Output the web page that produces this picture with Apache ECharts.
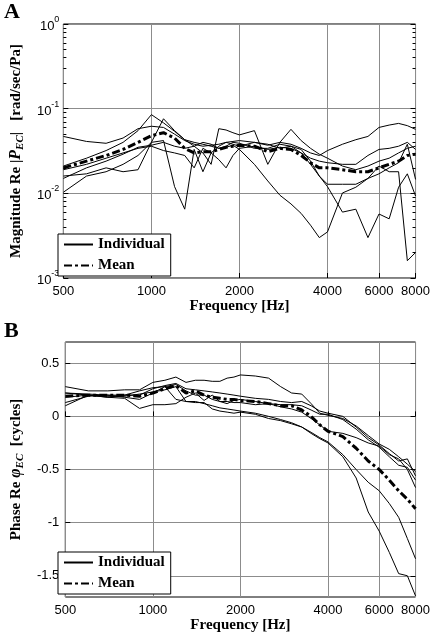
<!DOCTYPE html>
<html><head><meta charset="utf-8">
<script src="https://cdn.jsdelivr.net/npm/echarts@6/dist/echarts.min.js"></script>
<style>html,body{margin:0;padding:0;background:#fff}#c{width:433px;height:634px}</style>
</head><body><div id="c"></div>
<script>
// Frequencies (Hz)
const FREQ = [500,600,700,800,900,1000,1100,1200,1300,1400,1500,1600,1700,1800,1900,2000,2250,2500,2750,3000,3250,3500,3750,4000,4500,5000,5500,6000,6500,7000,7500,8000];

// Panel A: magnitude (rad/sec/Pa), six individuals + mean
const MAG_1 = [.047,.041,.039,.045,.058,.062,.060,.050,.042,.038,.036,.037,.038,.040,.041,.042,.040,.037,.040,.038,.034,.030,.028,.032,.038,.043,.047,.060,.064,.067,.063,.057];
const MAG_2 = [.021,.026,.032,.040,.055,.085,.068,.054,.043,.036,.030,.022,.058,.056,.052,.049,.055,.022,.040,.057,.042,.034,.029,.026,.021,.019,.021,.024,.026,.030,.034,.036];
const MAG_3 = [.0103,.016,.018,.022,.028,.040,.042,.012,.0065,.033,.018,.030,.025,.020,.028,.034,.036,.033,.035,.034,.030,.022,.016,.0128,.0128,.0128,.015,.017,.020,.023,.038,.0146];
const MAG_4 = [.016,.017,.020,.018,.019,.040,.076,.055,.043,.040,.038,.036,.034,.035,.037,.033,.022,.014,.0095,.0075,.0058,.0042,.003,.0035,.0101,.0118,.015,.021,.018,.018,.0016,.002];
const MAG_5 = [.019,.022,.026,.030,.034,.036,.032,.030,.028,.020,.034,.030,.036,.040,.038,.036,.040,.038,.034,.036,.033,.024,.016,.012,.006,.0065,.003,.0057,.005,.0118,.017,.0093];
const MAG_6 = [.015,.020,.024,.029,.035,.037,.040,.036,.034,.036,.040,.038,.034,.036,.040,.039,.034,.034,.038,.036,.030,.026,.024,.023,.022,.022,.028,.033,.034,.036,.040,.033];
const MAG_MEAN = [.020,.024,.028,.033,.040,.048,.052,.045,.034,.030,.031,.031,.033,.035,.036,.037,.036,.031,.034,.033,.028,.023,.020,.020,.019,.018,.018,.020,.022,.024,.028,.029];

// Panel B: phase (cycles)
const PH_1 = [0.28,0.24,0.24,0.25,0.25,0.32,0.34,0.37,0.32,0.34,0.34,0.33,0.33,0.36,0.37,0.39,0.38,0.36,0.28,0.22,0.21,0.12,0.03,0.01,-0.02,-0.09,-0.18,-0.26,-0.31,-0.38,-0.45,-0.52];
const PH_2 = [0.22,0.21,0.2,0.2,0.2,0.26,0.29,0.31,0.26,0.25,0.24,0.23,0.22,0.21,0.2,0.19,0.17,0.16,0.14,0.13,0.14,0.10,0.05,0.03,0.0,-0.10,-0.20,-0.27,-0.35,-0.42,-0.40,-0.56];
const PH_3 = [0.1,0.2,0.18,0.17,0.075,0.11,0.11,0.12,0.18,0.22,0.15,0.2,0.14,0.14,0.13,0.13,0.11,0.12,0.09,0.07,0.04,-0.02,-0.08,-0.14,-0.16,-0.20,-0.25,-0.28,-0.36,-0.40,-0.50,-0.67];
const PH_4 = [0.13,0.19,0.2,0.18,0.16,0.22,0.28,0.16,0.14,0.13,0.13,0.07,0.05,0.04,0.03,0.04,0.02,-0.02,-0.04,-0.07,-0.10,-0.16,-0.21,-0.25,-0.38,-0.58,-0.90,-1.08,-1.28,-1.48,-1.50,-1.69];
const PH_5 = [0.18,0.2,0.19,0.19,0.21,0.23,0.25,0.28,0.14,0.14,0.12,0.1,0.08,0.07,0.06,0.05,0.03,0.0,-0.03,-0.06,-0.10,-0.15,-0.20,-0.24,-0.36,-0.50,-0.62,-0.70,-0.82,-0.95,-1.15,-1.34];
const PH_6 = [0.22,0.2,0.18,0.2,0.24,0.27,0.28,0.3,0.24,0.2,0.2,0.16,0.14,0.12,0.15,0.16,0.14,0.12,0.11,0.11,0.10,0.06,0.02,0.02,-0.03,-0.12,-0.22,-0.29,-0.38,-0.46,-0.48,-0.60];
const PH_MEAN = [0.19,0.20,0.20,0.20,0.19,0.22,0.26,0.29,0.22,0.24,0.20,0.18,0.17,0.16,0.16,0.15,0.14,0.12,0.10,0.10,0.06,0.0,-0.08,-0.14,-0.19,-0.30,-0.42,-0.50,-0.60,-0.70,-0.78,-0.87];

// Tick labels
const X_TICKS = [500,1000,2000,4000,6000,8000];
const MAG_MINOR = [0.002,0.003,0.004,0.005,0.006,0.007,0.008,0.009,0.02,0.03,0.04,0.05,0.06,0.07,0.08,0.09,0.2,0.3,0.4,0.5,0.6,0.7,0.8,0.9];
const PH_TICKS = [-1.5,-1,-0.5,0,0.5];

const SERIF = '"Liberation Serif","DejaVu Serif",serif';
const SANS = '"Liberation Sans",Arial,sans-serif';
const GRIDC = '#8c8c8c';

const pair = arr => FREQ.map((f, i) => [f, arr[i]]);

function xAx(gi) {
  return {
    type: 'log', gridIndex: gi, min: 500, max: 8000,
    axisLine: {show: false},
    axisTick: {inside: true, length: 5, customValues: X_TICKS, lineStyle: {color: '#000'}},
    axisLabel: {customValues: X_TICKS, formatter: v => String(Math.round(v)), fontFamily: SANS, fontSize: 13, color: '#000', margin: 7},
    splitLine: {show: true, lineStyle: {color: GRIDC, width: 1}},
    name: 'Frequency [Hz]', nameLocation: 'middle', nameGap: 20,
    nameTextStyle: {fontFamily: SERIF, fontWeight: 'bold', fontSize: 15, color: '#000'}
  };
}
const nameRich = {
  b: {fontFamily: SERIF, fontWeight: 'bold', fontSize: 15, color: '#000', lineHeight: 20},
  it: {fontFamily: SERIF, fontWeight: 'bold', fontStyle: 'italic', fontSize: 16, color: '#000', lineHeight: 20},
  sub: {fontFamily: SERIF, fontWeight: 'bold', fontStyle: 'italic', fontSize: 11, color: '#000', verticalAlign: 'bottom', lineHeight: 12}
};

function minorAx(gi, pos, vals, len, type, min, max) {
  return {type: type, gridIndex: gi, min: min, max: max, position: pos,
    axisLine: {show: false}, axisLabel: {show: false}, splitLine: {show: false},
    axisTick: {show: true, inside: true, length: len, customValues: vals, lineStyle: {color: '#000'}}};
}

const indiv = (arr, xi, yi) => ({
  type: 'line', name: 'Individual', xAxisIndex: xi, yAxisIndex: yi, data: pair(arr),
  symbol: 'none', showSymbol: false, silent: true,
  lineStyle: {color: '#000', width: 1}, itemStyle: {color: '#000'}, z: 3
});
const meanS = (arr, xi, yi) => ({
  type: 'line', name: 'Mean', xAxisIndex: xi, yAxisIndex: yi, data: pair(arr),
  symbol: 'none', showSymbol: false, silent: true,
  lineStyle: {color: '#000', width: 3, type: [8, 3, 3, 3]}, itemStyle: {color: '#000'}, z: 4
});

const legendBase = {
  orient: 'vertical', left: 58, itemWidth: 29, itemHeight: 14, itemGap: 6,
  padding: [3, 6, 3, 5], backgroundColor: '#fff', borderColor: '#000', borderWidth: 1, borderRadius: 0,
  textStyle: {fontFamily: SERIF, fontWeight: 'bold', fontSize: 15, color: '#000'},
  itemStyle: {opacity: 0, borderWidth: 0},
  data: ['Individual', 'Mean'], selectedMode: false
};

const option = {
  animation: false,
  backgroundColor: '#fff',
  grid: [
    {left: 53, top: 24, width: 366, height: 254, show: true, borderColor: '#000', borderWidth: 1},
    {left: 53, top: 342, width: 366, height: 255, show: true, borderColor: '#000', borderWidth: 1}
  ],
  xAxis: [xAx(0), xAx(1)],
  yAxis: [
    {
      type: 'log', gridIndex: 0, min: 0.001, max: 1, position: 'left',
      axisLine: {show: false},
      axisTick: {inside: true, length: 5, lineStyle: {color: '#000'}},
      axisLabel: {
        formatter: v => '{n|10}{s|' + Math.round(Math.log10(v)) + '}',
        margin: 4,
        rich: {
          n: {fontFamily: SANS, fontSize: 13, color: '#000', lineHeight: 18, verticalAlign: 'bottom'},
          s: {fontFamily: SANS, fontSize: 9, color: '#000', lineHeight: 18, verticalAlign: 'top'}
        }
      },
      splitLine: {show: true, lineStyle: {color: GRIDC, width: 1}},
      name: '{b|Magnitude Re |}{it|P}{sub|EC}{b||   [rad/sec/Pa]}',
      nameLocation: 'middle', nameGap: 36, nameRotate: 90,
      nameTextStyle: {rich: nameRich}
    },
    minorAx(0, 'right', [0.001, 0.01, 0.1, 1], 5, 'log', 0.001, 1),
    minorAx(0, 'left', MAG_MINOR, 3, 'log', 0.001, 1),
    minorAx(0, 'right', MAG_MINOR, 3, 'log', 0.001, 1),
    {
      type: 'value', gridIndex: 1, min: -1.7, max: 0.7, position: 'left',
      axisLine: {show: false},
      axisTick: {inside: true, length: 5, customValues: PH_TICKS, lineStyle: {color: '#000'}},
      axisLabel: {customValues: PH_TICKS, fontFamily: SANS, fontSize: 13, color: '#000', margin: 6},
      splitLine: {show: true, lineStyle: {color: GRIDC, width: 1}},
      name: '{b|Phase Re }{it|φ}{sub|EC}{b|  [cycles]}',
      nameLocation: 'middle', nameGap: 36, nameRotate: 90,
      nameTextStyle: {rich: nameRich}
    },
    minorAx(1, 'right', PH_TICKS, 5, 'value', -1.7, 0.7)
  ],
  legend: [
    Object.assign({}, legendBase, {top: 234}),
    Object.assign({}, legendBase, {top: 552})
  ],
  graphic: [
    {type: 'text', left: 4, top: 1, style: {text: 'A', font: 'bold 22px "Liberation Serif", serif', fill: '#000'}},
    {type: 'text', left: 4, top: 320, style: {text: 'B', font: 'bold 22px "Liberation Serif", serif', fill: '#000'}}
  ],
  series: [
    indiv(MAG_1, 0, 0), indiv(MAG_2, 0, 0), indiv(MAG_3, 0, 0),
    indiv(MAG_4, 0, 0), indiv(MAG_5, 0, 0), indiv(MAG_6, 0, 0),
    meanS(MAG_MEAN, 0, 0),
    indiv(PH_1, 1, 4), indiv(PH_2, 1, 4), indiv(PH_3, 1, 4),
    indiv(PH_4, 1, 4), indiv(PH_5, 1, 4), indiv(PH_6, 1, 4),
    meanS(PH_MEAN, 1, 4)
  ]
};
const chart = echarts.init(document.getElementById('c'), null, {renderer: 'canvas'});
chart.setOption(option);
</script>
</body></html>
